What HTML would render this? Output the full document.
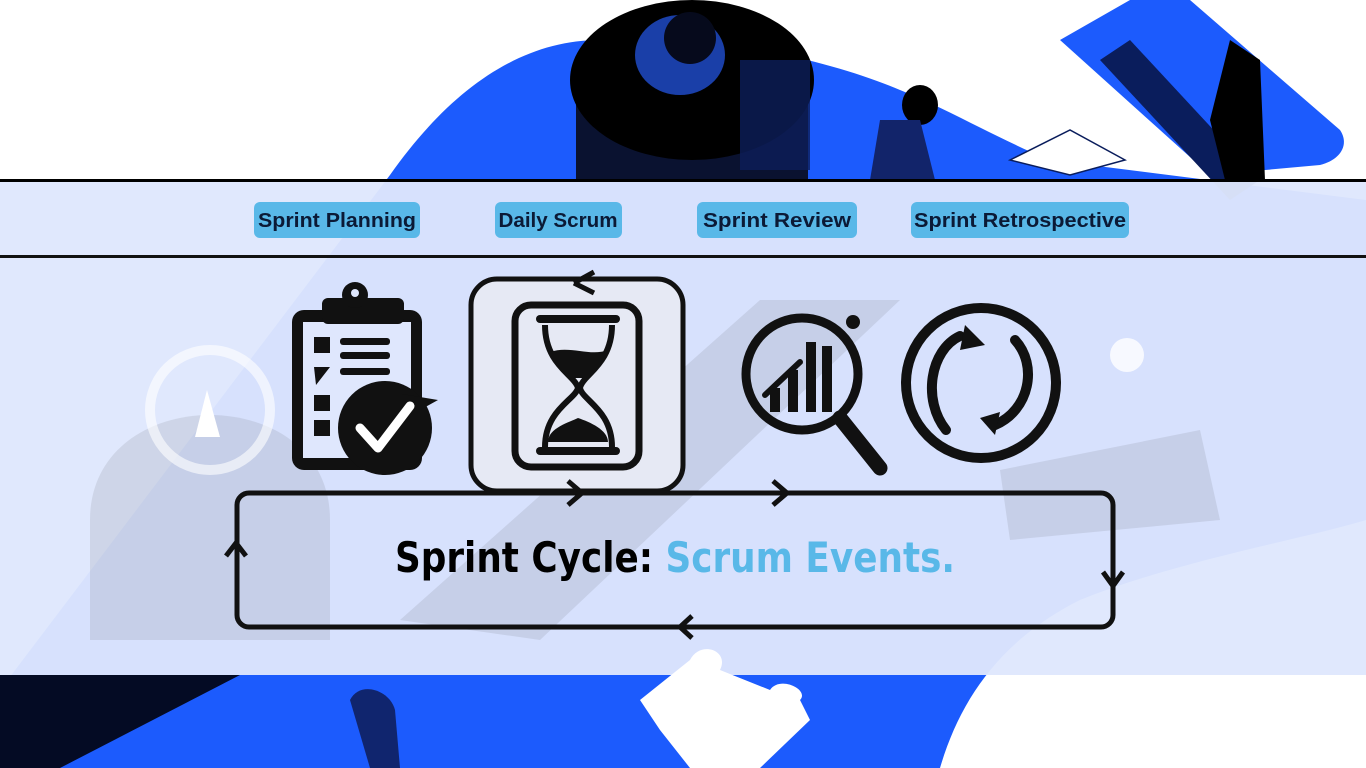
<!DOCTYPE html>
<html><head><meta charset="utf-8"><style>
html,body{margin:0;padding:0;width:1366px;height:768px;overflow:hidden;background:#fff}
svg{display:block}
</style></head><body>
<svg width="1366" height="768" viewBox="0 0 1366 768" xmlns="http://www.w3.org/2000/svg">
<path d="M0 768 L0 690 L390 175 C450 90 520 40 600 40 C700 30 830 60 900 90 C950 110 1000 140 1050 160 L1366 200 L1366 768 Z" fill="#1c5bfd"/>
<path d="M1060 40 L1130 0 L1190 0 L1340 130 C1350 145 1340 160 1320 165 L1210 175 Z" fill="#1c5bfd"/>
<path d="M1100 60 L1230 200 L1260 180 L1130 40 Z" fill="#0a1d5c"/>
<path d="M0 675 L240 675 L60 768 L0 768 Z" fill="#040b24"/>
<path d="M940 768 C960 700 1000 640 1080 600 C1180 560 1300 540 1366 520 L1366 768 Z" fill="#ffffff"/>
<rect x="576" y="90" width="232" height="90" fill="#0a1230"/>
<ellipse cx="692" cy="80" rx="122" ry="80" fill="#000"/>
<ellipse cx="680" cy="55" rx="45" ry="40" fill="#1a3fa8"/>
<circle cx="690" cy="38" r="26" fill="#060a1c"/>
<rect x="740" y="60" width="70" height="110" fill="#0c1e5a" opacity="0.8"/>
<ellipse cx="920" cy="105" rx="18" ry="20" fill="#000"/>
<path d="M870 180 L880 120 L920 120 L935 180 Z" fill="#12246a"/>
<path d="M1210 120 L1230 40 L1260 60 L1265 180 L1225 180 Z" fill="#000"/>
<path d="M1010 160 L1070 130 L1125 160 L1070 175 Z" fill="#fff" stroke="#0a1d5c" stroke-width="1.5"/>
<rect x="0" y="181" width="1366" height="494" fill="#dfe7fd" opacity="0.96"/>
<g opacity="0.12" fill="#555">
<path d="M90 520 C90 380 330 380 330 520 L330 640 L90 640 Z"/>
<path d="M400 620 L760 300 L900 300 L540 640 Z"/>
<path d="M1000 470 L1200 430 L1220 520 L1010 540 Z"/>
</g>
<circle cx="210" cy="410" r="60" fill="none" stroke="#fff" stroke-width="10" opacity="0.6"/>
<path d="M195 437 L207 390 L220 437 Z" fill="#fff"/>
<circle cx="1127" cy="355" r="17" fill="#fff" opacity="0.8"/>
<rect x="0" y="179" width="1366" height="3" fill="#000"/>
<rect x="0" y="255" width="1366" height="3" fill="#111"/>
<g font-family="Liberation Sans, sans-serif" font-weight="bold" font-size="20" fill="#0b1a36" text-anchor="middle">
<rect x="254" y="202" width="166" height="36" rx="6" fill="#59b8e8"/>
<text x="337" y="227" textLength="158" lengthAdjust="spacingAndGlyphs">Sprint Planning</text>
<rect x="495" y="202" width="127" height="36" rx="6" fill="#59b8e8"/>
<text x="558" y="227" textLength="119" lengthAdjust="spacingAndGlyphs">Daily Scrum</text>
<rect x="697" y="202" width="160" height="36" rx="6" fill="#59b8e8"/>
<text x="777" y="227" textLength="148" lengthAdjust="spacingAndGlyphs">Sprint Review</text>
<rect x="911" y="202" width="218" height="36" rx="6" fill="#59b8e8"/>
<text x="1020" y="227" textLength="212" lengthAdjust="spacingAndGlyphs">Sprint Retrospective</text>
</g>
<g fill="#111">
<rect x="292" y="310" width="130" height="160" rx="12"/>
<rect x="303" y="322" width="108" height="136" fill="#dfe7fd"/>
<rect x="322" y="298" width="82" height="26" rx="6"/>
<circle cx="355" cy="295" r="13"/>
<circle cx="355" cy="293" r="4" fill="#dfe7fd"/>
<rect x="314" y="337" width="16" height="16"/>
<rect x="340" y="338" width="50" height="7" rx="3"/>
<rect x="340" y="352" width="50" height="7" rx="3"/>
<path d="M314 367 L330 367 L316 385 Z"/>
<rect x="340" y="368" width="50" height="7" rx="3"/>
<rect x="314" y="395" width="16" height="16"/>
<rect x="314" y="420" width="16" height="16"/>
<circle cx="385" cy="428" r="47"/>
<path d="M402 394 L438 400 L420 410 Z"/>
<path d="M360 428 L378 448 L410 406" fill="none" stroke="#fff" stroke-width="9" stroke-linecap="round" stroke-linejoin="round"/>
</g>
<rect x="471" y="279" width="212" height="212" rx="26" fill="#e6e9f4" stroke="#111" stroke-width="5"/>
<path d="M574 283 L594 272 M574 283 L594 293" stroke="#111" stroke-width="5" fill="none"/>
<rect x="515" y="305" width="124" height="162" rx="16" fill="none" stroke="#111" stroke-width="7"/>
<rect x="536" y="315" width="84" height="8" rx="4" fill="#111"/>
<rect x="536" y="447" width="84" height="8" rx="4" fill="#111"/>
<path d="M545 325 C545 365 575 375 578 388 C575 400 545 410 545 447 M612 325 C612 365 582 375 580 388 C582 400 612 410 612 447" fill="none" stroke="#111" stroke-width="6"/>
<path d="M550 352 C570 345 590 357 608 350 L590 378 L570 378 Z" fill="#111"/>
<path d="M548 442 C548 428 570 422 578 418 C590 422 608 430 608 442 Z" fill="#111"/>
<g fill="none" stroke="#111">
<circle cx="802" cy="374" r="56" stroke-width="9"/>
<path d="M840 418 L880 468" stroke-width="15" stroke-linecap="round"/>
<path d="M765 395 L800 362" stroke-width="6" stroke-linecap="round"/>
</g>
<circle cx="853" cy="322" r="7" fill="#111"/>
<g fill="#111">
<rect x="770" y="388" width="10" height="24"/>
<rect x="788" y="370" width="10" height="42"/>
<rect x="806" y="342" width="10" height="70"/>
<rect x="822" y="346" width="10" height="66"/>
</g>
<circle cx="981" cy="383" r="75" fill="none" stroke="#111" stroke-width="10"/>
<path d="M960 336 C930 350 922 400 946 430" fill="none" stroke="#111" stroke-width="10" stroke-linecap="round"/>
<path d="M995 425 C1030 410 1038 365 1015 340" fill="none" stroke="#111" stroke-width="10" stroke-linecap="round"/>
<path d="M965 325 L985 345 L960 350 Z" fill="#111"/>
<path d="M995 435 L980 418 L1000 412 Z" fill="#111"/>
<rect x="237" y="493" width="876" height="134" rx="12" fill="none" stroke="#111" stroke-width="5"/>
<g stroke="#111" stroke-width="5" fill="none">
<path d="M568 481 L582 493 L568 505"/>
<path d="M773 481 L787 493 L773 505"/>
<path d="M226 556 L236 543 L246 556"/>
<path d="M1103 572 L1113 586 L1123 572"/>
<path d="M692 616 L680 627 L692 638"/>
</g>
<text x="675" y="572" text-anchor="middle" font-family="DejaVu Sans, sans-serif" font-weight="bold" font-size="42" textLength="560" lengthAdjust="spacingAndGlyphs"><tspan fill="#000">Sprint Cycle: </tspan><tspan fill="#59b8e8">Scrum Events.</tspan></text>
<path d="M640 700 L690 660 C700 640 730 650 720 670 L770 690 C780 675 810 690 800 700 L810 720 L760 768 L690 768 L660 730 Z" fill="#fff"/>
<path d="M350 700 C360 680 390 690 395 710 L400 768 L370 768 Z" fill="#10256e"/>
</svg>
</body></html>
